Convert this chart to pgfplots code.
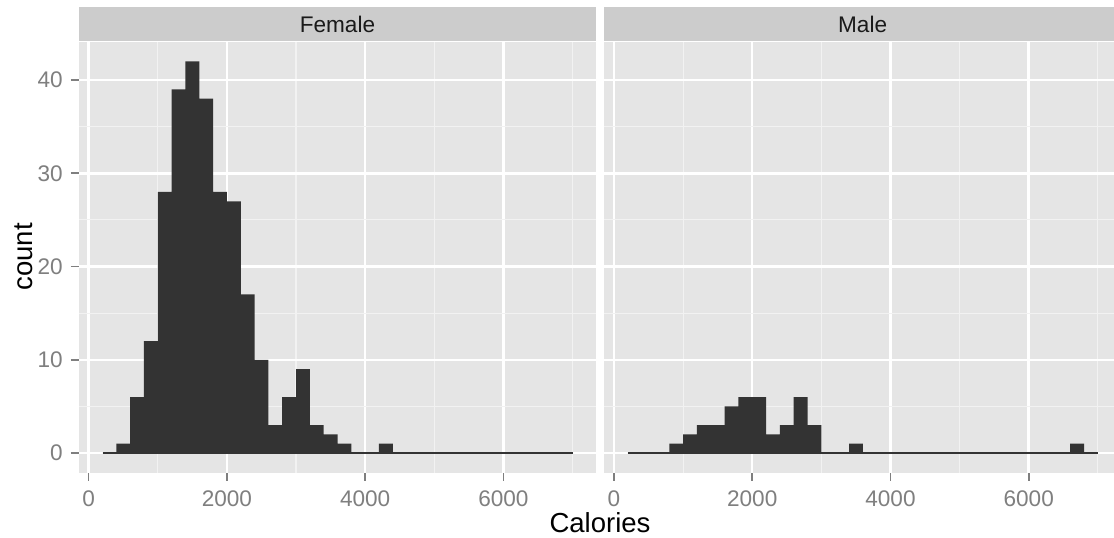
\documentclass[border=0pt]{standalone}
\usepackage{pgfplots}
\pgfplotsset{compat=1.18}
\usepackage{fontspec}
\setmainfont{Liberation Sans}
\definecolor{grey10}{HTML}{1A1A1A}
\definecolor{grey20}{HTML}{333333}
\definecolor{grey50}{HTML}{7F7F7F}
\definecolor{grey80}{HTML}{CCCCCC}
\definecolor{grey90}{HTML}{E5E5E5}
\definecolor{grey95}{HTML}{F2F2F2}
\pgfplotsset{
  panel/.style={
    scale only axis, height=200.3pt,
    ymin=-2.1, ymax=44.1, xmin=-140,
    axis background/.style={fill=grey90},
    axis line style={draw=none},
    grid=both,
    major grid style={white, line width=1.15pt},
    minor grid style={grey95, line width=0.55pt},
    xtick={0,2000,4000,6000}, minor xtick={1000,3000,5000,7000},
    ytick={0,10,20,30,40}, minor ytick={5,15,25,35},
    tick align=outside, tick pos=left,
    major tick length=3.8pt, minor tick length=0pt,
    tick style={grey50, line width=0.75pt},
    /pgf/number format/assume math mode=true,
    /pgf/number format/1000 sep={},
    scaled x ticks=false,
    tick label style={font=\fontsize{10.5}{12}\selectfont, text=grey50, inner sep=0pt},
    x tick label style={yshift=-4.4pt},
    y tick label style={xshift=-3.6pt},
  }
}
\begin{document}
\begin{tikzpicture}
\fill[white] (0,0) rectangle (518pt,-249.7pt);
\path[use as bounding box] (0,0) rectangle (518pt,-249.7pt);
\begin{axis}[panel, name=p1, at={(36.74pt,-19.44pt)}, anchor=north west,
  width=240.4pt, xmax=7340]
\addplot[fill=grey20, draw=none, const plot mark left] coordinates {
(200,0)(400,1)(600,6)(800,12)(1000,28)(1200,39)(1400,42)(1600,38)(1800,28)
(2000,27)(2200,17)(2400,10)(2600,3)(2800,6)(3000,9)(3200,3)(3400,2)(3600,1)
(3800,0)(4200,1)(4400,0)(7000,0)};
\addplot[grey20, line width=0.5pt] coordinates {(200,0)(7000,0)};
\end{axis}
\begin{axis}[panel, name=p2, at={(281.0pt,-19.44pt)}, anchor=north west,
  width=237.0pt, xmax=7234, yticklabels={}, ytick style={draw=none}]
\addplot[fill=grey20, draw=none, const plot mark left] coordinates {
(200,0)(800,1)(1000,2)(1200,3)(1400,3)(1600,5)(1800,6)(2000,6)(2200,2)
(2400,3)(2600,6)(2800,3)(3000,0)(3400,1)(3600,0)(6600,1)(6800,0)(7000,0)};
\addplot[grey20, line width=0.5pt] coordinates {(200,0)(7000,0)};
\end{axis}
\fill[grey80] ([yshift=0.5pt]p1.north west) rectangle ([yshift=16.3pt]p1.north east);
\fill[grey80] ([yshift=0.5pt]p2.north west) rectangle ([yshift=16.3pt]p2.north east);
\node[font=\fontsize{10.5}{12}\selectfont, text=grey10, anchor=base] at (156.9pt,-15.0pt) {Female};
\node[font=\fontsize{10.5}{12}\selectfont, text=grey10, anchor=base] at (401.1pt,-15.0pt) {Male};
\node[font=\fontsize{12.8}{15}\selectfont, anchor=base] at (279pt,-247.8pt) {Calories};
\node[font=\fontsize{12.8}{15}\selectfont, anchor=base, rotate=90] at (15.3pt,-119.5pt) {count};
\end{tikzpicture}
\end{document}
